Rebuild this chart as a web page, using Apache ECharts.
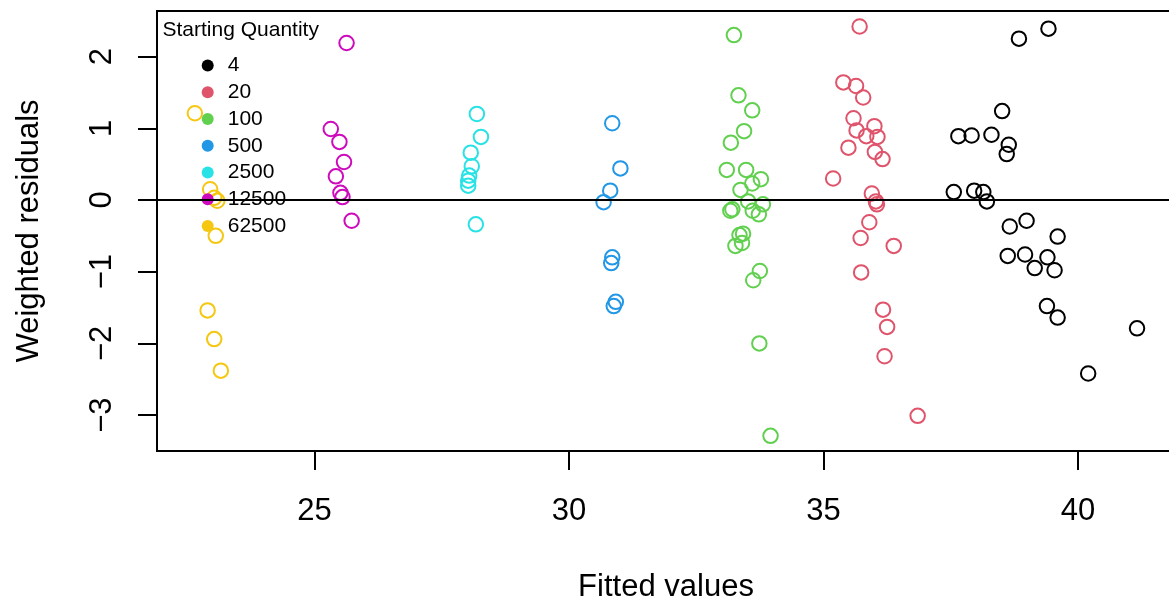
<!DOCTYPE html>
<html>
<head>
<meta charset="utf-8">
<script src="https://cdn.jsdelivr.net/npm/echarts@6/dist/echarts.min.js"></script>
<style>
  html, body { margin: 0; padding: 0; background: #fff; }
  #main { width: 1169px; height: 604px; }
</style>
</head>
<body>
<div id="main"></div>
<script>
// starting quantities (legend) and their colours (R 4 palette)
const quantities = ['4', '20', '100', '500', '2500', '12500', '62500'];
const colors = ['#000000', '#DF536B', '#61D04F', '#2297E6', '#28E2E5', '#CD0BBC', '#F5C710'];

// fitted values / weighted residuals, one pair of arrays per group
const fit_4 = [39.42, 38.84, 38.51, 37.65, 37.91, 38.30, 38.64, 38.60, 37.56, 37.96, 38.14, 38.21,
               38.99, 38.66, 39.60, 38.62, 38.96, 39.40, 39.15, 39.54, 39.39, 39.60, 41.16, 40.20];
const res_4 = [2.39, 2.25, 1.24, 0.89, 0.90, 0.91, 0.77, 0.64, 0.11, 0.13, 0.11, -0.02,
               -0.29, -0.37, -0.51, -0.78, -0.76, -0.80, -0.95, -0.98, -1.48, -1.64, -1.79, -2.42];

const fit_20 = [35.71, 35.39, 35.64, 35.78, 35.59, 36.00, 35.65, 35.84, 36.06, 35.49, 36.01, 36.16,
                35.19, 35.95, 36.03, 36.05, 35.90, 35.73, 36.38, 35.74, 36.17, 36.25, 36.20, 36.85];
const res_20 = [2.42, 1.64, 1.59, 1.43, 1.14, 1.03, 0.97, 0.89, 0.88, 0.73, 0.67, 0.57,
                0.30, 0.09, -0.02, -0.06, -0.31, -0.53, -0.64, -1.01, -1.53, -1.77, -2.18, -3.01];

const fit_100 = [33.24, 33.33, 33.60, 33.44, 33.18, 33.10, 33.48, 33.77, 33.60, 33.37, 33.52, 33.81,
                 33.21, 33.17, 33.61, 33.73, 33.42, 33.35, 33.40, 33.27, 33.75, 33.62, 33.74, 33.96];
const res_100 = [2.30, 1.46, 1.25, 0.96, 0.80, 0.42, 0.42, 0.29, 0.23, 0.14, -0.02, -0.06,
                 -0.13, -0.15, -0.15, -0.20, -0.47, -0.49, -0.60, -0.64, -0.99, -1.12, -2.00, -3.29];

const fit_500 = [30.85, 31.01, 30.81, 30.68, 30.85, 30.83, 30.92, 30.88];
const res_500 = [1.07, 0.44, 0.13, -0.03, -0.80, -0.88, -1.42, -1.48];

const fit_2500 = [28.19, 28.27, 28.07, 28.09, 28.04, 28.02, 28.02, 28.17];
const res_2500 = [1.20, 0.88, 0.66, 0.47, 0.34, 0.27, 0.20, -0.34];

const fit_12500 = [25.63, 25.32, 25.49, 25.58, 25.42, 25.51, 25.55, 25.73];
const res_12500 = [2.19, 0.99, 0.81, 0.53, 0.33, 0.10, 0.04, -0.29];

const fit_62500 = [22.65, 22.95, 23.03, 23.09, 23.06, 22.90, 23.03, 23.16];
const res_62500 = [1.21, 0.15, 0.03, -0.01, -0.50, -1.54, -1.94, -2.38];

const fits = [fit_4, fit_20, fit_100, fit_500, fit_2500, fit_12500, fit_62500];
const resids = [res_4, res_20, res_100, res_500, res_2500, res_12500, res_62500];

const xTicks = [25, 30, 35, 40];
const yTicks = [-3, -2, -1, 0, 1, 2];

const font = '"Liberation Sans", Arial, Helvetica, sans-serif';

const series = quantities.map((q, i) => ({
  name: q,
  type: 'scatter',
  symbol: 'circle',
  symbolSize: 14.5,
  data: fits[i].map((x, k) => [x, resids[i][k]]),
  itemStyle: { color: 'rgba(0,0,0,0)', borderColor: colors[i], borderWidth: 2, opacity: 1 },
  emphasis: { disabled: true },
  z: 2
}));

// horizontal reference line at 0
series[0].markLine = {
  silent: true,
  symbol: 'none',
  label: { show: false },
  lineStyle: { color: '#000', width: 2, type: 'solid' },
  data: [{ yAxis: 0 }],
  animation: false
};

const chart = echarts.init(document.getElementById('main'), null, { renderer: 'canvas' });
chart.setOption({
  animation: false,
  backgroundColor: '#fff',
  textStyle: { fontFamily: font },
  title: {
    text: 'Starting Quantity',
    left: 162.5,
    top: 20,
    padding: 0,
    textStyle: { fontFamily: font, fontSize: 21, fontWeight: 'normal', color: '#000', lineHeight: 21 }
  },
  legend: {
    orient: 'vertical',
    left: 201.7,
    top: 55,
    padding: 0,
    itemWidth: 12,
    itemHeight: 12,
    itemGap: 5.75,
    selectedMode: false,
    textStyle: { fontFamily: font, fontSize: 21, color: '#000', lineHeight: 21, padding: [0, 0, 0, 9] },
    data: quantities.map((q, i) => ({
      name: q,
      icon: 'circle',
      itemStyle: { color: colors[i], borderWidth: 0 }
    }))
  },
  grid: {
    left: 157,
    top: 11,
    width: 1018,
    height: 440,
    outerBoundsMode: 'none',
    containLabel: false,
    show: true,
    borderColor: '#000',
    borderWidth: 2,
    backgroundColor: 'transparent'
  },
  xAxis: {
    type: 'value',
    min: 21.906,
    max: 41.906,
    name: 'Fitted values',
    nameLocation: 'middle',
    nameGap: 121,
    nameTextStyle: { fontFamily: font, fontSize: 31, color: '#000', lineHeight: 31 },
    axisLine: { show: false, onZero: false },
    splitLine: { show: false },
    axisTick: { show: true, length: 19, lineStyle: { color: '#000', width: 2 }, customValues: xTicks },
    axisLabel: {
      customValues: xTicks,
      margin: 45,
      fontFamily: font, fontSize: 31, color: '#000', lineHeight: 31
    }
  },
  yAxis: {
    type: 'value',
    min: -3.501,
    max: 2.636,
    name: 'Weighted residuals',
    nameLocation: 'middle',
    nameRotate: 90,
    nameGap: 112,
    nameTextStyle: { fontFamily: font, fontSize: 31, color: '#000', lineHeight: 31 },
    axisLine: { show: false, onZero: false },
    splitLine: { show: false },
    axisTick: { show: true, length: 19, lineStyle: { color: '#000', width: 2 }, customValues: yTicks },
    axisLabel: {
      customValues: yTicks,
      rotate: 90,
      margin: 39,
      fontFamily: font, fontSize: 31, color: '#000', lineHeight: 31,
      formatter: v => String(v).replace('-', '\u2212')
    }
  },
  series: series
});
</script>
</body>
</html>
